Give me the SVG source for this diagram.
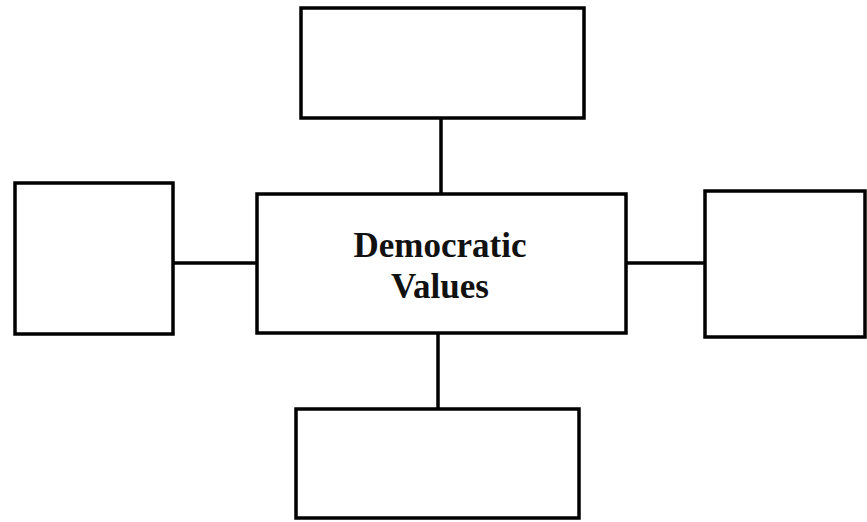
<svg xmlns="http://www.w3.org/2000/svg" width="867" height="522" viewBox="0 0 867 522">
<style>
.box{fill:#fff;stroke:#000;stroke-width:3.5}
.con{stroke:#000;stroke-width:3.5;fill:none}
.lbl{font-family:"Liberation Serif",serif;font-size:35px;font-weight:bold;fill:#111;text-anchor:middle}
</style>
<rect width="867" height="522" fill="#fff"/>
<g id="connectors">
<line class="con" x1="441" y1="118" x2="441" y2="194"/>
<line class="con" x1="438" y1="333" x2="438" y2="409"/>
<line class="con" x1="173" y1="263" x2="257" y2="263"/>
<line class="con" x1="626" y1="263" x2="705" y2="263"/>
</g>
<g id="center">
<rect class="box" x="257" y="194" width="369" height="139"/>
<text class="lbl" x="440" y="257">Democratic</text>
<text class="lbl" x="440" y="298">Values</text>
</g>
<g id="top"><rect class="box" x="301" y="8" width="283" height="110"/></g>
<g id="bottom"><rect class="box" x="296" y="409" width="283" height="109"/></g>
<g id="left"><rect class="box" x="15" y="183" width="158" height="151"/></g>
<g id="right"><rect class="box" x="705" y="191" width="160" height="146"/></g>
</svg>
